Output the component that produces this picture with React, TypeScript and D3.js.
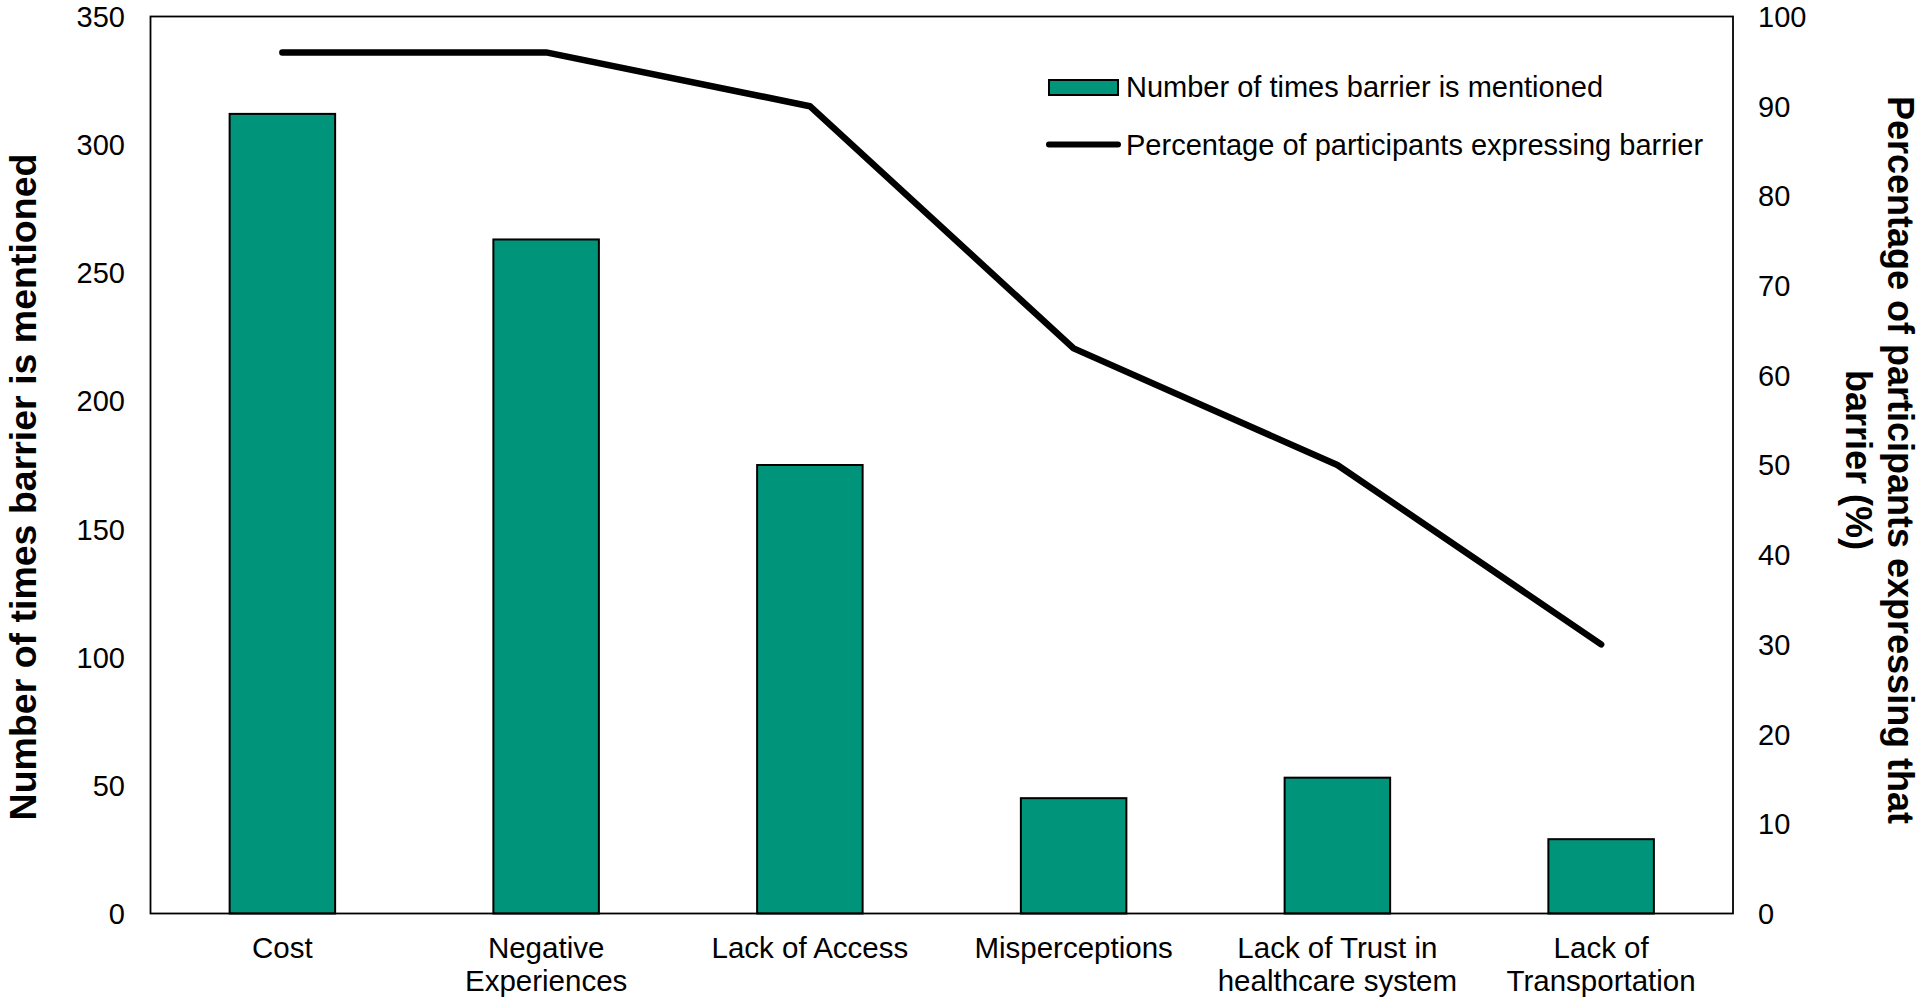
import React from "react";
import * as d3 from "d3";

const categories: string[][] = [
  ["Cost"],
  ["Negative", "Experiences"],
  ["Lack of Access"],
  ["Misperceptions"],
  ["Lack of Trust in", "healthcare system"],
  ["Lack of", "Transportation"],
];
const mentions: number[] = [312, 263, 175, 45, 53, 29];
const percentages: number[] = [96, 96, 90, 63, 50, 30];
const leftTicks: number[] = [0, 50, 100, 150, 200, 250, 300, 350];
const rightTicks: number[] = [0, 10, 20, 30, 40, 50, 60, 70, 80, 90, 100];
const legendLabels: string[] = [
  "Number of times barrier is mentioned",
  "Percentage of participants expressing barrier",
];

const W = 1920;
const H = 1003;
const L = 150.5;
const R = 1733;
const T = 16.5;
const B = 913.5;
const FONT = "'Liberation Sans', Arial, sans-serif";
const TEAL = "#00957B";

export default function App() {
  const idx = categories.map((_, i) => i);
  const x = d3.scaleBand<number>().domain(idx).range([L, R]).paddingInner(0.6).paddingOuter(0.3);
  const xc = (i: number) => (x(i) as number) + x.bandwidth() / 2;
  const yL = d3.scaleLinear().domain([0, 350]).range([B, T]);
  const yR = d3.scaleLinear().domain([0, 100]).range([B, T]);
  const line = d3
    .line<number>()
    .x((_, i) => xc(i))
    .y((d) => yR(d));

  return (
    <svg
      width={W}
      height={H}
      style={{ position: "absolute", left: 0, top: 0, background: "#fff" }}
      fontFamily={FONT}
    >
      <rect x={0} y={0} width={W} height={H} fill="#fff" />
      {mentions.map((v, i) => (
        <rect
          key={i}
          x={x(i)}
          y={yL(v)}
          width={x.bandwidth()}
          height={B - yL(v)}
          fill={TEAL}
          stroke="#000"
          strokeWidth={2}
        />
      ))}
      <rect x={L} y={T} width={R - L} height={B - T} fill="none" stroke="#000" strokeWidth={1.8} />
      <path
        d={line(percentages) || ""}
        fill="none"
        stroke="#000"
        strokeWidth={6.5}
        strokeLinecap="round"
        strokeLinejoin="round"
      />
      {leftTicks.map((t) => (
        <text key={t} x={125} y={yL(t)} dy="0.36em" textAnchor="end" fontSize={29} fill="#000">
          {t}
        </text>
      ))}
      {rightTicks.map((t) => (
        <text key={t} x={1758} y={yR(t)} dy="0.36em" textAnchor="start" fontSize={29} fill="#000">
          {t}
        </text>
      ))}
      {categories.map((lines, i) => (
        <text key={i} x={xc(i)} textAnchor="middle" fontSize={29.5} fill="#000">
          {lines.map((ln, j) => (
            <tspan key={j} x={xc(i)} y={958 + j * 33}>
              {ln}
            </tspan>
          ))}
        </text>
      ))}
      <text
        transform={`translate(36, 487) rotate(-90)`}
        textAnchor="middle"
        fontSize={37.5}
        fontWeight="bold"
        fill="#000"
      >
        Number of times barrier is mentioned
      </text>
      <text transform={`translate(1888, 460) rotate(90)`} textAnchor="middle" fontSize={36} fontWeight="bold" fill="#000">
        <tspan x={0} y={0}>Percentage of participants expressing that</tspan>
        <tspan x={0} y={42}>barrier (%)</tspan>
      </text>
      <rect x={1049} y={80} width={69} height={15} fill={TEAL} stroke="#000" strokeWidth={2} />
      <text x={1126} y={97} fontSize={29} fill="#000">
        {legendLabels[0]}
      </text>
      <line x1={1049} x2={1118} y1={144.5} y2={144.5} stroke="#000" strokeWidth={6} strokeLinecap="round" />
      <text x={1126} y={155} fontSize={29} fill="#000">
        {legendLabels[1]}
      </text>
    </svg>
  );
}
